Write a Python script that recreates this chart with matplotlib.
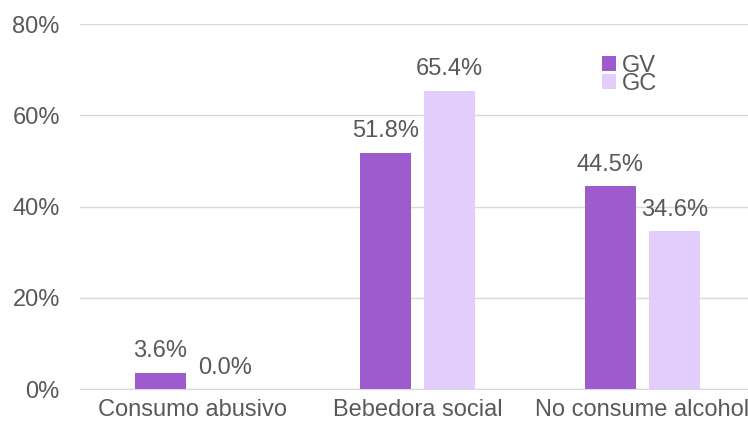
import numpy as np
import matplotlib.pyplot as plt

plt.rcParams['font.family'] = ['Liberation Sans', 'DejaVu Sans']

categorias = ['Consumo abusivo', 'Bebedora social', 'No consume alcohol']
gv = [3.6, 51.8, 44.5]
gc = [0.0, 65.4, 34.6]

color_gv = '#9E5BCD'
color_gc = '#E3CDFD'
gris = '#595959'
fs = 17

fig = plt.figure(figsize=(7.48, 4.29), dpi=100)
ax = fig.add_axes([80 / 748, 1 - 389 / 429, 675 / 748, 365 / 429])

x = np.arange(len(categorias))
ancho = 0.227
desp = 0.143

b1 = ax.bar(x - desp, gv, ancho, color=color_gv, label='GV')
b2 = ax.bar(x + desp, gc, ancho, color=color_gc, label='GC')

for barras in (b1, b2):
    for b in barras:
        v = b.get_height()
        ax.annotate(f'{v:.1f}%', (b.get_x() + b.get_width() / 2, v),
                    xytext=(0, 7.5), textcoords='offset points',
                    ha='center', va='bottom', fontsize=fs, color=gris)

ax.set_xlim(-0.5, 2.5)
ax.set_ylim(0, 80)
ax.set_yticks([0, 20, 40, 60, 80])
ax.set_yticklabels([f'{t}%' for t in [0, 20, 40, 60, 80]])
ax.set_xticks(x)
ax.set_xticklabels(categorias)
ax.tick_params(axis='both', length=0, labelsize=fs, labelcolor=gris)
ax.tick_params(axis='y', pad=14.5)
ax.tick_params(axis='x', pad=7)

ax.grid(axis='y', color='#D9D9D9', linewidth=1)
ax.set_axisbelow(True)
for lado in ['top', 'right', 'left']:
    ax.spines[lado].set_visible(False)
ax.spines['bottom'].set_color('#D9D9D9')

ax.legend(loc='upper left', bbox_to_anchor=(0.756, 0.948), frameon=False,
          fontsize=fs, labelcolor=gris, handlelength=0.6, handleheight=0.6,
          handletextpad=0.25, labelspacing=-0.15, borderpad=0)

fig.savefig('out.png', dpi=100)
